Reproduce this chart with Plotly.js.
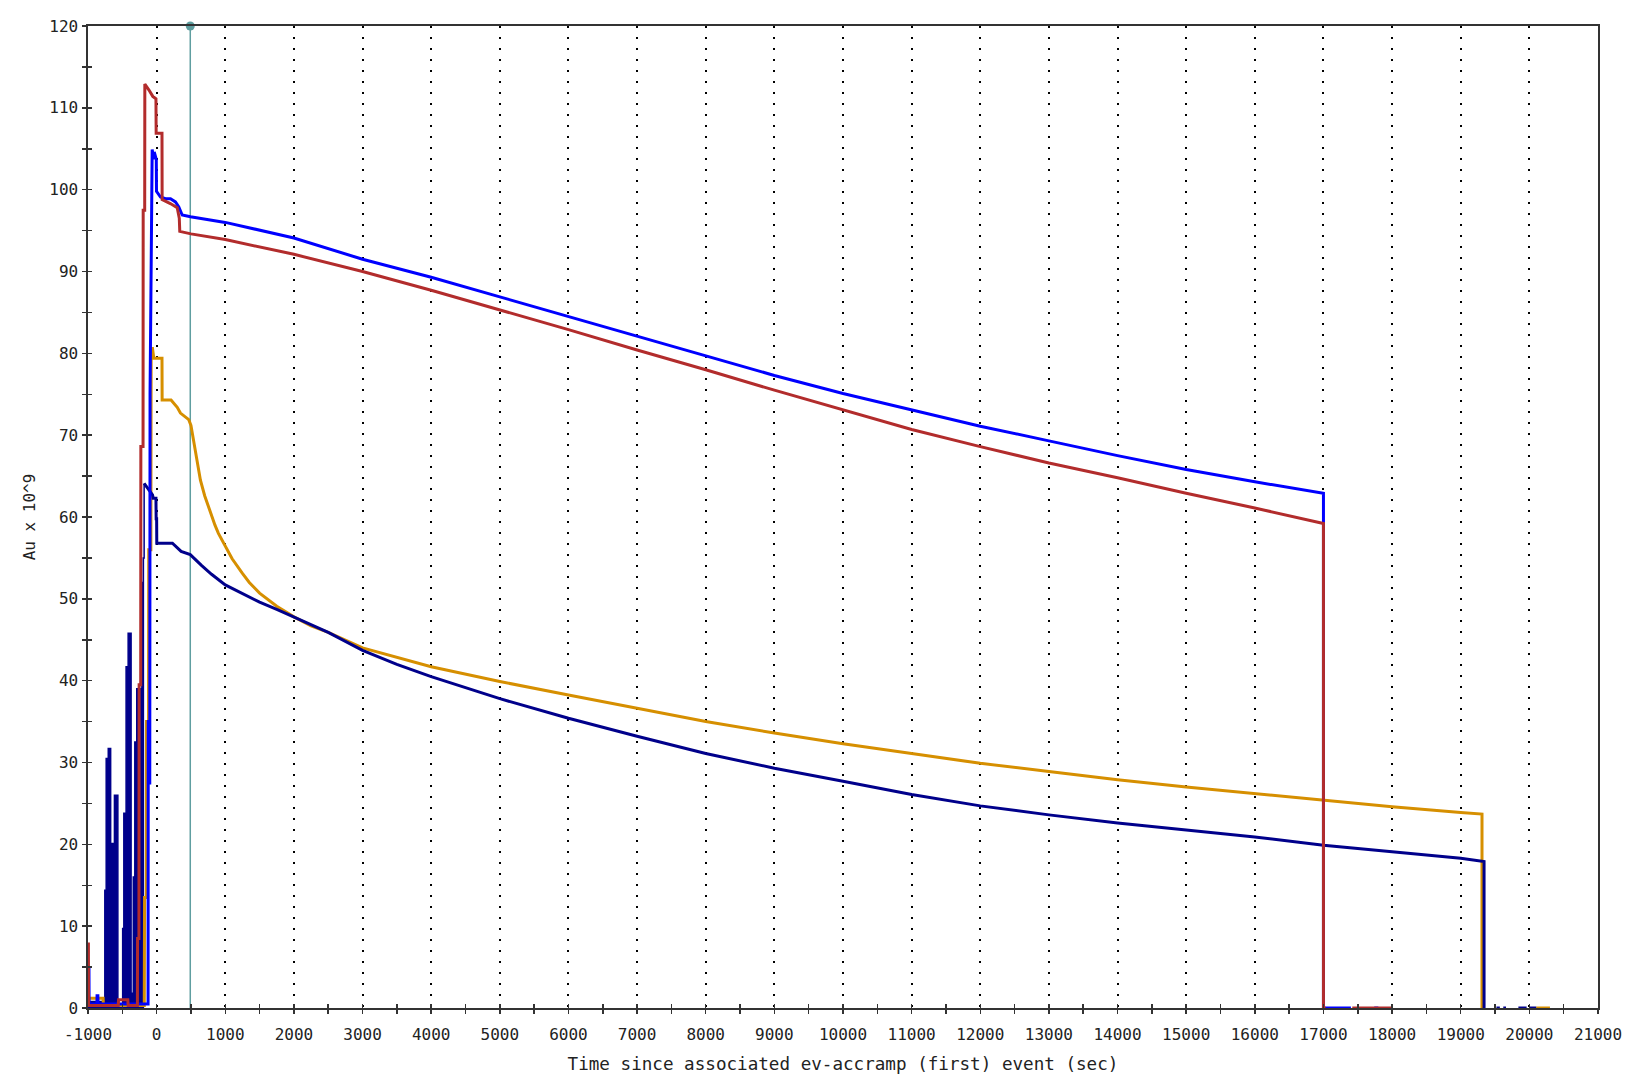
<!DOCTYPE html>
<html>
<head>
<meta charset="utf-8">
<script src="https://cdn.plot.ly/plotly-3.0.1.min.js"></script>
<style>
html,body{margin:0;padding:0;background:#ffffff;}
#chart{width:1633px;height:1081px;}
</style>
</head>
<body>
<div id="chart"></div>
<script>
// ---- Data ----
const blueX = [-1000,-995,-986,-984,-870,-868,-856,-854,-125,-122,-112,-110,-100,-96,-80,-70,-65,-55,-45,-35,-20,-5,-2,56,128,202,274,323,372,493,1000,2000,3000,4000,5000,6000,7000,8000,9000,10000,11000,12000,13000,14000,15000,16000,17000,17000,17400,null,17740,17800];
const blueY = [0.5,5,5,0.5,0.5,1.5,1.5,0.5,0.5,35,35,27.5,27.5,75,86,100,104.9,104.2,103.7,104.6,103.9,103.7,99.8,99.1,98.9,98.9,98.5,97.9,96.9,96.7,96.0,94.1,91.5,89.3,86.9,84.5,82.1,79.7,77.3,75.1,73.1,71.1,69.3,67.5,65.8,64.3,62.9,0,0,null,0,0];

const redX = [-1000,-998,-994,-992,-560,-555,-420,-415,-280,-278,-258,-255,-232,-230,-198,-196,-174,-172,-114,-56,-10,-7,78,80,200,300,330,337,500,1000,2000,3000,4000,5000,6000,7000,8000,9000,10000,11000,12000,13000,14000,15000,16000,17000,17000,17030,null,17420,18000];
const redY = [0.3,8,8,0.3,0.3,1,1,0.3,0.3,8.5,8.5,39.5,39.5,68.6,68.6,97.5,97.5,112.9,112.2,111.4,111.1,106.9,106.9,98.8,98.3,97.8,96.5,94.9,94.6,93.9,92.1,90.0,87.7,85.3,82.9,80.4,78.0,75.5,73.1,70.7,68.6,66.6,64.8,62.9,61.1,59.2,0,0,null,0,0];

const orangeX = [-1000,-998,-780,-776,-180,-176,-150,-148,-118,-115,-84,-80,-60,-42,78,80,210,300,347,468,500,535,560,600,638,700,784,850,900,1000,1100,1250,1350,1500,1750,2000,2250,2500,3000,4000,5000,6000,7000,8000,9000,10000,11000,12000,13000,14000,15000,16000,17000,18000,19000,19310,19310,null,20100,20300];
const orangeY = [0.3,1.2,1.2,0.3,0.3,13.5,13.5,35,35,56,56,80.6,80.6,79.4,79.4,74.3,74.3,73.4,72.7,71.9,71.2,69.4,68.0,66.3,64.5,62.6,60.5,59.0,58.0,56.4,54.9,53.1,52.0,50.7,49.1,47.8,46.7,45.9,44.0,41.7,39.9,38.25,36.6,35.0,33.6,32.3,31.1,29.9,28.9,27.9,27.0,26.2,25.4,24.6,23.9,23.7,0,null,0,0];

const navyX = [-182,-60,-50,-10,-7,0,2,230,357,490,653,800,1000,1250,1500,1750,2000,2500,3000,3500,4000,5000,6000,7000,8000,9000,10000,11000,12000,13000,14000,15000,16000,17000,18000,19000,19340,19340,null,19520,19570,null,19620,19660,null,19840,19960,null,20000,20100];
const navyY = [64.1,62.7,62.3,62.3,59.8,59.8,56.8,56.8,55.8,55.4,54.1,53.0,51.7,50.6,49.6,48.7,47.8,45.9,43.7,42.0,40.5,37.8,35.4,33.2,31.1,29.3,27.7,26.1,24.7,23.6,22.6,21.75,20.9,19.9,19.1,18.3,17.9,0,null,0,0,null,0,0,null,0,0,null,0,0];

// pre-event oscillations of the navy series (step data)
const navySpikeX = [-1000,-870,-855,-760,-755,-735,-705,-670,-630,-615,-565,-495,-478,-445,-415,-372,-340,-318,-290,-255,-240,-215,-195,-182];
const navySpikeY = [0.8,1.5,0.8,0.5,14.4,30.5,31.7,20.1,0.5,26,0.5,9.7,23.8,41.7,45.8,1.8,16,32.5,39,32.5,39,52,55,64.1];

// vertical marker line
const markerX = [490, 490];
const markerY = [0, 120];

// x tick labels
const xTickVals = [-1000,0,1000,2000,3000,4000,5000,6000,7000,8000,9000,10000,11000,12000,13000,14000,15000,16000,17000,18000,19000,20000,21000];
const xTickText = ["-1000","0","1000","2000","3000","4000","5000","6000","7000","8000","9000","10000","11000","12000","13000","14000","15000","16000","17000","18000","19000","20000","21000"];

// ---- Styles ----
const FONT = "DejaVu Sans Mono, Liberation Mono, monospace";
const AX = '#333333';
const LW = 3;
const cyan = '#5f9ea0';
const TXT = '#222222';

const traces = [
  {x: markerX, y: markerY, type: 'scatter', mode: 'lines', line: {color: cyan, width: 1.5}, hoverinfo: 'skip'},
  {x: navySpikeX, y: navySpikeY, type: 'scatter', mode: 'lines', line: {color: '#00008b', width: 1.5, shape: 'hv'}, fill: 'tozeroy', fillcolor: '#00008b'},
  {x: orangeX, y: orangeY, type: 'scatter', mode: 'lines', line: {color: '#d68f00', width: LW}, connectgaps: false},
  {x: navyX, y: navyY, type: 'scatter', mode: 'lines', line: {color: '#00008b', width: LW}, connectgaps: false},
  {x: blueX, y: blueY, type: 'scatter', mode: 'lines', line: {color: '#0000ff', width: LW}, connectgaps: false},
  {x: redX, y: redY, type: 'scatter', mode: 'lines', line: {color: '#b22c2c', width: LW}, connectgaps: false},
  {x: [markerX[1]], y: [markerY[1]], xaxis: 'x2', yaxis: 'y2', type: 'scatter', mode: 'markers', marker: {color: cyan, size: 9}, cliponaxis: false}
];

const layout = {
  width: 1633, height: 1081,
  margin: {l: 88, r: 35, t: 26, b: 73, pad: 0},
  paper_bgcolor: '#ffffff', plot_bgcolor: '#ffffff',
  showlegend: false,
  font: {family: FONT, size: 16, color: TXT},
  xaxis: {
    range: [-1000, 21000], tickmode: 'array', tickvals: xTickVals, ticktext: xTickText,
    showgrid: true, gridcolor: '#000000', gridwidth: 2, griddash: '2px,9px',
    showline: true, linecolor: AX, linewidth: 1.6, mirror: true, zeroline: false,
    ticks: 'outside', ticklen: 4, tickwidth: 1.5, tickcolor: AX,
    minor: {tickmode: 'linear', tick0: -1000, dtick: 500, ticks: 'outside', ticklen: 4, tickwidth: 1.5, tickcolor: AX, showgrid: false},
    ticklabelstandoff: 7,
    tickfont: {family: FONT, size: 16, color: TXT},
    title: {text: 'Time since associated ev-accramp (first) event (sec)', font: {family: FONT, size: 17.6, color: TXT}, standoff: 15}
  },
  yaxis: {
    range: [0, 120], dtick: 10, tick0: 0,
    showgrid: false, zeroline: false,
    showline: true, linecolor: AX, linewidth: 1.6, mirror: true,
    ticks: 'outside', ticklen: 4, tickwidth: 1.5, tickcolor: AX,
    minor: {dtick: 5, ticks: 'outside', ticklen: 4, tickwidth: 1.5, tickcolor: AX, showgrid: false},
    ticklabelstandoff: 1,
    tickfont: {family: FONT, size: 16, color: TXT},
    title: {text: 'Au x 10^9', font: {family: FONT, size: 16, color: TXT}, standoff: 9}
  },
  xaxis2: {
    overlaying: 'x', anchor: 'y2', side: 'bottom', range: [-1000, 21000], tick0: 0, dtick: 1000,
    showgrid: false, zeroline: false, showline: false, showticklabels: false,
    ticks: 'inside', ticklen: 4, tickwidth: 1.5, tickcolor: AX,
    minor: {dtick: 500, ticks: 'inside', ticklen: 4, tickwidth: 1.5, tickcolor: AX, showgrid: false}
  },
  yaxis2: {
    overlaying: 'y', anchor: 'x2', side: 'left', range: [0, 120], tick0: 0, dtick: 10,
    showgrid: false, zeroline: false, showline: false, showticklabels: false,
    ticks: 'inside', ticklen: 4, tickwidth: 1.5, tickcolor: AX,
    minor: {dtick: 5, ticks: 'inside', ticklen: 4, tickwidth: 1.5, tickcolor: AX, showgrid: false}
  }
};

Plotly.newPlot('chart', traces, layout, {staticPlot: true, displayModeBar: false});
</script>
</body>
</html>
